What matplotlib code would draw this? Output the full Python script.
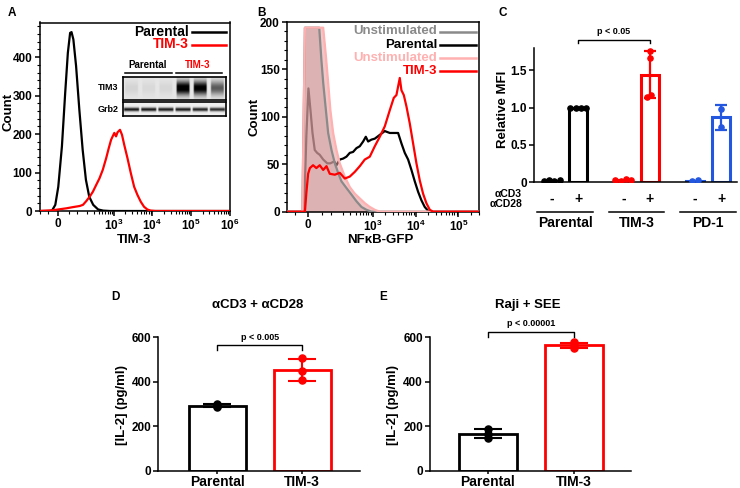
import numpy as np
import matplotlib
matplotlib.use('Agg')
import matplotlib.pyplot as plt
from matplotlib.lines import Line2D
from matplotlib import transforms as mtransforms

plt.rcParams['font.family'] = ['Liberation Sans', 'DejaVu Sans']
plt.rcParams['font.weight'] = 'bold'
plt.rcParams['axes.labelweight'] = 'bold'
plt.rcParams['axes.linewidth'] = 1.1
plt.rcParams['mathtext.fontset'] = 'custom'
plt.rcParams['mathtext.rm'] = 'Liberation Sans:bold'
plt.rcParams['mathtext.bf'] = 'Liberation Sans:bold'

# ---------------- data ----------------
# A: TIM-3 staining histograms
a_par_x = [-100, -40, -28, -13, 0, 16, 31, 44, 56, 64, 75, 93, 118, 148, 183, 226, 289, 390, 528, 800, 1e6]
a_par_y = [0, 0, 1, 16, 63, 168, 307, 411, 463, 465, 446, 377, 263, 159, 81, 37, 16, 4, 1, 0, 0]
a_tim_x = [-100, -23, 0, 37, 71, 121, 151, 188, 231, 283, 348, 424, 517, 633, 739, 851, 936, 1035, 1145, 1260,
           1451, 1635, 1870, 2272, 2777, 3377, 4105, 5020, 6098, 7410, 9060, 12000, 1e6]
a_tim_y = [0, 2, 4, 7, 10, 13, 16, 26, 37, 50, 68, 85, 107, 137, 163, 185, 194, 203, 194, 205,
           211, 198, 172, 137, 98, 63, 42, 24, 11, 4, 1, 0, 0]
a_xticks = [0, 1e3, 1e4, 1e5, 1e6]
a_xlabels = ['0', r'$\mathbf{10^3}$', r'$\mathbf{10^4}$', r'$\mathbf{10^5}$', r'$\mathbf{10^6}$']

# western blot inset, band intensity per lane
tim3_band = [0.07, 0.05, 0.06, 1.0, 0.95, 0.55]
grb2_band = [0.9, 0.9, 0.88, 0.88, 0.86, 0.82]

# B: NFkB-GFP histograms
b_gray_x = [-90, -20, -11, 40, 49, 57, 70, 82, 102, 125, 152, 184, 243, 321, 420, 551, 721, 943, 3e5]
b_gray_y = [0, 0, 194, 194, 160, 136, 107, 83, 65, 51, 41, 32, 25, 18, 11, 5, 2, 0, 0]
b_pink_x = [-90, -20, -11, 57, 70, 82, 95, 113, 138, 167, 222, 292, 384, 503, 659, 862, 1128, 1474, 3e5]
b_pink_y = [0, 0, 194, 194, 164, 136, 107, 83, 65, 51, 37, 26, 19, 14, 9, 5, 2, 0, 0]
b_par_x = [-90, -14, -6, 1, 8, 15, 23, 32, 42, 57, 77, 95, 120, 138, 167, 202, 243, 292, 350, 420,
           503, 603, 696, 789, 943, 1128, 1474, 1928, 2520, 3119, 3937, 4707, 5630, 6730, 8040, 9610,
           11490, 13730, 16400, 19600, 23400, 3e5]
b_par_y = [0, 0, 80, 130, 107, 83, 65, 62, 60, 55, 51, 51, 53, 49, 55, 56, 58, 62, 63, 67,
           69, 74, 79, 74, 76, 77, 81, 85, 83, 83, 83, 72, 62, 55, 44, 32,
           21, 12, 5, 1, 0, 0]
b_tim_x = [-90, -11, -6, 0, 6, 17, 29, 42, 57, 73, 91, 125, 167, 222, 292, 384, 503, 659, 862, 1128,
           1474, 1928, 2520, 3119, 3600, 4306, 4707, 5334, 6154, 7355, 8790, 10510, 12560, 15000, 17900,
           21500, 25700, 3e5]
b_tim_y = [0, 0, 20, 40, 46, 49, 46, 49, 44, 48, 40, 39, 41, 35, 37, 42, 48, 55, 58, 69,
           79, 90, 107, 120, 123, 141, 128, 123, 111, 93, 72, 51, 33, 19, 9,
           2, 0, 0]
b_xticks = [0, 1e3, 1e4, 1e5]

# C: relative MFI
c_groups = ['Parental', 'TIM-3', 'PD-1']
c_signs = ['-', '+', '-', '+', '-', '+']
c_mean = [0.02, 1.0, 0.03, 1.44, 0.02, 0.87]
c_sd = [0.005, 0.0, 0.01, 0.31, 0.005, 0.17]
c_points = [[0.02, 0.03, 0.02, 0.03], [1.0, 1.0, 1.0, 1.0], [0.03, 0.02, 0.04, 0.03],
            [1.75, 1.66, 1.17, 1.14], [0.02, 0.03], [0.98, 0.74]]
c_jitter = [[-0.3, -0.1, 0.1, 0.3], [-0.3, -0.1, 0.1, 0.3], [-0.3, -0.1, 0.1, 0.3],
            [0.0, 0.0, 0.05, -0.1], [-0.1, 0.1], [0.0, 0.0]]

# D / E: IL-2
de_cats = ['Parental', 'TIM-3']
d_mean = [292, 454]
d_sd = [7, 49]
d_points = [[300, 291, 286], [505, 449, 408]]
e_mean = [166, 565]
e_sd = [21, 11]
e_points = [[186, 166, 147], [577, 566, 553]]

BLUE = '#2457e0'
RED = '#ff0000'

# ---------------- helpers ----------------
W, H = 740, 488
fig = plt.figure(figsize=(W / 100, H / 100), dpi=100)


def rect(l, t, r, b):
    return [l / W, 1 - b / H, (r - l) / W, (b - t) / H]


def fx(px):
    return px / W


def fy(py):
    return 1 - py / H


def fline(x0, x1, y0, y1, **kw):
    fig.add_artist(Line2D([fx(x0), fx(x1)], [fy(y0), fy(y1)], transform=fig.transFigure, **kw))


def ftext(px, py, s, **kw):
    fig.text(fx(px), fy(py), s, ha=kw.pop('ha', 'center'), va=kw.pop('va', 'center'), **kw)


def flow_minor(lo, hi):
    m = [-100, -50, 50]
    for dec in [100, 1000, 10000, 100000]:
        m += [k * dec for k in range(1, 10)]
    return [v for v in m if lo <= v <= hi and v not in (1000, 10000, 100000)]


# ---------------- panel A ----------------
axA = fig.add_axes(rect(39.5, 22.5, 229.5, 211))
axA.set_xscale('asinh', linear_width=73)
axA.plot(a_par_x, a_par_y, color='black', lw=1.6, zorder=3)
axA.plot(a_tim_x, a_tim_y, color=RED, lw=1.6, zorder=4)
axA.set_xlim(-100, 1e6)
axA.set_ylim(0, 490)
axA.set_xticks(a_xticks)
axA.set_xticklabels(a_xlabels)
axA.set_xticks(flow_minor(-100, 1e6), minor=True)
axA.set_yticks([0, 100, 200, 300, 400])
axA.set_yticks(np.arange(0, 490, 20), minor=True)
axA.tick_params(which='major', labelsize=8.5, length=3.5, width=1.1, pad=1.5)
axA.tick_params(which='minor', length=2, width=0.8)
ftext(9, 112, 'Count', rotation=90, fontsize=9.5)
ftext(134, 240, 'TIM-3', fontsize=9.5)

# legend A
ftext(189, 31.5, 'Parental', ha='right', fontsize=10)
fline(192, 226, 31.5, 31.5, color='black', lw=1.8)
ftext(189, 44.5, 'TIM-3', ha='right', fontsize=10, color=RED)
fline(192, 226, 44.5, 44.5, color=RED, lw=1.8)


# western blot inset
def blot(intens, rows, center, width, bg, gap):
    img = np.full((rows, 96), bg)
    yy = np.arange(rows)[:, None]
    prof = np.exp(-((yy - center) / width) ** 2)
    for i, v in enumerate(intens):
        img[:, i * 16 + gap:i * 16 + 16 - gap] += v * prof
    return np.clip(img, 0, 1)


axT = fig.add_axes(rect(123, 77, 226, 99.5))
axT.imshow(blot(tim3_band, 24, 12, 7, 0.1, 2), cmap='gray_r', vmin=0, vmax=1,
           aspect='auto', interpolation='bicubic')
axG = fig.add_axes(rect(123, 102, 226, 116))
axG.imshow(blot(grb2_band, 16, 8, 2.0, 0.06, 1), cmap='gray_r', vmin=0, vmax=1,
           aspect='auto', interpolation='bicubic')
for ax in (axT, axG):
    ax.set_xticks([])
    ax.set_yticks([])
    for s in ax.spines.values():
        s.set_linewidth(1.2)
ftext(108, 88, 'TIM3', fontsize=6.5)
ftext(108, 109, 'Grb2', fontsize=6.5)
ftext(148, 65, 'Parental', fontsize=7)
ftext(198, 65, 'TIM-3', fontsize=7, color=RED)
fline(125, 172, 73, 73, color='black', lw=1.1)
fline(176, 222, 73, 73, color='black', lw=1.1)

# ---------------- panel B ----------------
axB = fig.add_axes(rect(286.7, 22, 479, 211.7))
axB.set_xscale('asinh', linear_width=63.5)
axB.fill_between(b_gray_x, b_gray_y, color='#9a9a9a', alpha=0.45, lw=0, zorder=2)
axB.fill_between(b_pink_x, b_pink_y, color='#e89a9a', alpha=0.55, lw=0, zorder=2)
axB.plot(b_par_x, b_par_y, color='black', lw=1.6, zorder=1.5)
axB.plot(b_gray_x, b_gray_y, color='#8a8a8a', lw=1.6, zorder=3)
axB.plot(b_pink_x, b_pink_y, color='#ffb0b0', lw=1.6, zorder=3.2)
axB.plot(b_tim_x, b_tim_y, color=RED, lw=1.6, zorder=4)
axB.set_xlim(-90, 3e5)
axB.set_ylim(0, 200)
axB.set_xticks(b_xticks)
axB.set_xticklabels(a_xlabels[:4])
axB.set_xticks(flow_minor(-90, 3e5), minor=True)
axB.set_yticks([0, 50, 100, 150, 200])
axB.set_yticks(np.arange(0, 201, 10), minor=True)
axB.tick_params(which='major', labelsize=8.5, length=3.5, width=1.1, pad=1.5)
axB.tick_params(which='minor', length=2, width=0.8)
ftext(255, 117, 'Count', rotation=90, fontsize=9.5)
ftext(380, 240, 'NF\u03baB-GFP', fontsize=9.5)

b_leg = [('Unstimulated', '#8a8a8a', 31.5), ('Parental', 'black', 44.5),
         ('Unstimulated', '#ffb0b0', 58), ('TIM-3', RED, 71)]
for lab, col, py in b_leg:
    ftext(437, py, lab, ha='right', fontsize=9.5, color=col)
    fline(440, 476, py, py, color=col, lw=1.8)

# ---------------- panel C ----------------
axC = fig.add_axes(rect(534, 47.7, 737, 182.3))
c_pos = [0, 1, 2.7, 3.7, 5.4, 6.4]
c_cols = ['black', 'black', RED, RED, BLUE, BLUE]
axC.bar(c_pos, c_mean, width=0.68, facecolor='white', edgecolor=c_cols, linewidth=2.2, zorder=2)
for i, p in enumerate(c_pos):
    if c_sd[i] > 0.05:
        axC.errorbar(p, c_mean[i], yerr=c_sd[i], color=c_cols[i], capsize=4, elinewidth=1.6,
                     capthick=1.6, zorder=3)
    axC.scatter([p + j for j in c_jitter[i]], c_points[i], s=14, color=c_cols[i], zorder=4)
axC.set_xlim(-0.67, 6.99)
axC.set_ylim(0, 1.8)
axC.set_yticks([0, 0.5, 1.0, 1.5])
axC.set_yticklabels(['0', '0.5', '1.0', '1.5'])
axC.set_xticks([])
axC.spines['top'].set_visible(False)
axC.spines['right'].set_visible(False)
axC.tick_params(labelsize=8.5, length=3.5, width=1.1, pad=1.5)
ftext(503, 109, 'Relative MFI', rotation=90, fontsize=9.5)

trC = mtransforms.blended_transform_factory(axC.transData, fig.transFigure)
for p, s in zip(c_pos, c_signs):
    axC.text(p, fy(199), s, transform=trC, ha='center', va='center', fontsize=10)
ftext(522, 193.5, '\u03b1CD3', ha='right', fontsize=7.5)
ftext(523, 204, '\u03b1CD28', ha='right', fontsize=7.5)
for k, g in enumerate(c_groups):
    cx = (c_pos[2 * k] + c_pos[2 * k + 1]) / 2
    axC.add_line(Line2D([cx - 1.05, cx + 1.05], [fy(212), fy(212)], transform=trC,
                        color='black', lw=1.1, clip_on=False))
    axC.text(cx, fy(223), g, transform=trC, ha='center', va='center', fontsize=10)
# bracket C
axC.add_line(Line2D([1, 1, 3.7, 3.7], [fy(43), fy(39.5), fy(39.5), fy(43)], transform=trC,
                    color='black', lw=1.0, clip_on=False))
axC.text(2.35, fy(32), 'p < 0.05', transform=trC, ha='center', va='center', fontsize=6.5)


# ---------------- panels D, E ----------------
def il2_panel(r, mean, sd, points, xlim, title, title_xy, ptxt, br_y, txt_y, ylab_x):
    ax = fig.add_axes(rect(*r))
    cols = ['black', RED]
    ax.bar([0, 1], mean, width=0.67, facecolor='white', edgecolor=cols, linewidth=2.0, zorder=2)
    for i in range(2):
        ax.errorbar(i, mean[i], yerr=sd[i], color=cols[i], capsize=10, elinewidth=1.5,
                    capthick=1.5, zorder=3)
        ax.scatter([i] * len(points[i]), points[i], s=26, color=cols[i], zorder=4)
    ax.set_xlim(*xlim)
    ax.set_ylim(0, 600)
    ax.set_yticks([0, 200, 400, 600])
    ax.set_xticks([0, 1])
    ax.set_xticklabels(de_cats, fontsize=10)
    ax.spines['top'].set_visible(False)
    ax.spines['right'].set_visible(False)
    ax.tick_params(axis='y', labelsize=8.5, length=3.5, width=1.1, pad=1.5)
    ax.tick_params(axis='x', length=2.5, width=1.1, pad=0.5)
    tr = mtransforms.blended_transform_factory(ax.transData, fig.transFigure)
    ax.add_line(Line2D([0, 0, 1, 1], [fy(br_y + 5), fy(br_y), fy(br_y), fy(br_y + 5)],
                       transform=tr, color='black', lw=1.0, clip_on=False))
    ax.text(0.5, fy(txt_y), ptxt, transform=tr, ha='center', va='center', fontsize=6.5)
    ftext(title_xy[0], title_xy[1], title, fontsize=9.5)
    ftext(ylab_x, 405, '[IL-2] (pg/ml)', rotation=90, fontsize=9.5)
    return ax


il2_panel((158.3, 337.3, 360, 470.7), d_mean, d_sd, d_points, (-0.69, 1.68),
          '\u03b1CD3 + \u03b1CD28', (258, 305), 'p < 0.005', 344.5, 337.5, 122)
il2_panel((430, 337.3, 630.7, 470.7), e_mean, e_sd, e_points, (-0.674, 1.66),
          'Raji + SEE', (528, 305), 'p < 0.00001', 331.5, 323, 393)

# panel letters
for lab, px, py in [('A', 11.5, 13), ('B', 261.5, 13), ('C', 503, 13), ('D', 115, 297), ('E', 383, 297)]:
    ftext(px, py, lab, fontsize=8.5)

fig.savefig('out.png', dpi=100)
